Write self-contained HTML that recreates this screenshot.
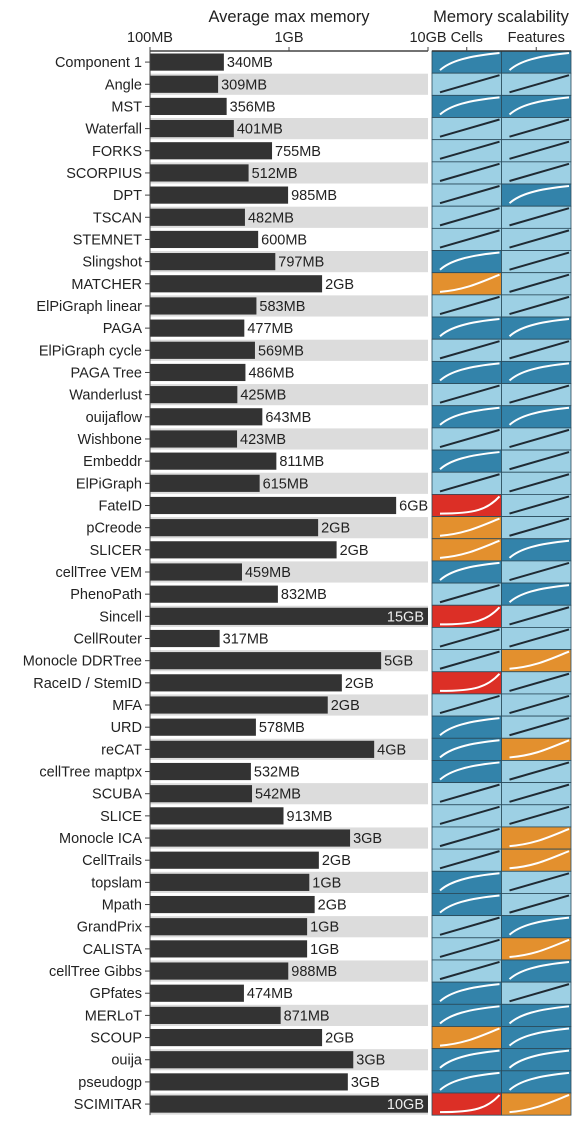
<!DOCTYPE html>
<html><head><meta charset="utf-8">
<style>
html,body{margin:0;padding:0;background:#fff;}
svg{display:block;font-family:"Liberation Sans",Arial,sans-serif;}
</style></head>
<body>
<svg id="chart" width="585" height="1125" viewBox="0 0 585 1125" xmlns="http://www.w3.org/2000/svg">
<text x="289" y="22" font-size="16.5" text-anchor="middle" fill="#222">Average max memory</text>
<text x="501" y="22" font-size="16.5" text-anchor="middle" fill="#222">Memory scalability</text>
<g id="g"></g>
</svg>
<script>
const methods=["Component 1","Angle","MST","Waterfall","FORKS","SCORPIUS","DPT","TSCAN","STEMNET","Slingshot","MATCHER","ElPiGraph linear","PAGA","ElPiGraph cycle","PAGA Tree","Wanderlust","ouijaflow","Wishbone","Embeddr","ElPiGraph","FateID","pCreode","SLICER","cellTree VEM","PhenoPath","Sincell","CellRouter","Monocle DDRTree","RaceID / StemID","MFA","URD","reCAT","cellTree maptpx","SCUBA","SLICE","Monocle ICA","CellTrails","topslam","Mpath","GrandPrix","CALISTA","cellTree Gibbs","GPfates","MERLoT","SCOUP","ouija","pseudogp","SCIMITAR"];
const memoryMB=[340,309,356,401,755,512,985,482,600,797,1730,583,477,569,486,425,643,423,811,615,5900,1620,2200,459,832,15000,317,4600,2400,1900,578,4100,532,542,913,2750,1640,1400,1530,1350,1350,988,474,871,1730,2900,2650,10000];
const cellScal=["D","L","D","L","L","L","L","L","L","D","O","L","D","L","D","L","D","L","D","L","R","O","O","D","L","R","L","L","R","L","D","D","D","L","L","L","L","D","D","L","L","L","D","D","O","D","D","R"];
const featScal=["D","L","D","L","L","L","D","L","L","L","L","L","D","L","D","L","D","L","L","L","L","L","D","L","D","L","L","O","L","L","L","O","L","L","L","O","O","L","L","D","O","D","L","D","D","D","D","O"];
const xTicks=[100,1000,10000];
const xTickLabels=["100MB","1GB","10GB"];
const scalCols=["Cells","Features"];

const NS="http://www.w3.org/2000/svg";
const g=document.getElementById("g");
const X0=150,DEC=139,TOP=51,STEP=22.17;
function x(v){return X0+Math.log10(Math.min(v,10000)/100)*DEC;}
function yRow(i){return TOP+i*STEP;}
function mk(t,a,p){const e=document.createElementNS(NS,t);for(const k in a)e.setAttribute(k,a[k]);(p||g).appendChild(e);return e;}
const colors={D:"#3383aa",L:"#9dd0e4",O:"#e3902e",R:"#dc2f26"};
const curveCol={D:"#fff",L:"#1f2a33",O:"#fff",R:"#fff"};

methods.forEach((m,i)=>{
  const y=yRow(i);
  if(i%2===1){
    const s=mk("rect",{x:X0,y:y+0.5,width:x(10000)-X0,height:STEP-1,fill:"#dcdcdc"});
    
    
  }
  const v=memoryMB[i];
  const b=mk("rect",{x:X0,y:y+2.5,width:x(v)-X0,height:STEP-5,fill:"#333"});
  
  
  const lab=v<1000?Math.round(v)+"MB":Math.round(v/1000)+"GB";
  const inside=v>=8000;
  const t=mk("text",{x:inside?x(v)-4:x(v)+3,y:y+STEP/2+5,"font-size":"14.5","text-anchor":inside?"end":"start",fill:inside?"#eee":"#222"});
  t.textContent=lab;
  
  
  const n=mk("text",{x:X0-8,y:y+STEP/2+5,"font-size":"14.5","text-anchor":"end",fill:"#222"});
  n.textContent=m;
  
  
  mk("line",{x1:X0-5,x2:X0,y1:y+STEP/2,y2:y+STEP/2,stroke:"#444","stroke-width":1});
  [cellScal[i],featScal[i]].forEach((c,j)=>{
    const cx=432+j*69.5,w=69.5;
    const r=mk("rect",{x:cx,y:y,width:w,height:STEP,fill:colors[c],stroke:"#2a4a5a","stroke-width":0.8});
    
    
    const x1=cx+8,x2=cx+w-2,y1=y+STEP-3,y2=y+2;
    let d;
    if(c==="D")d=`M${x1},${y1} C${x1+10},${y1-9} ${x1+28},${y2+3} ${x2},${y2}`;
    else if(c==="L")d=`M${x1},${y1} L${x2},${y2}`;
    else if(c==="O")d=`M${x1},${y1} C${x1+25},${y1-2} ${x2-20},${y2+8} ${x2},${y2}`;
    else d=`M${x1},${y1} C${x1+35},${y1} ${x2-12},${y1-4} ${x2},${y2}`;
    const p=mk("path",{d:d,fill:"none",stroke:curveCol[c],"stroke-width":2});
    
    
  });
});
mk("line",{x1:X0,x2:x(10000),y1:TOP,y2:TOP,stroke:"#444","stroke-width":1.5});
mk("line",{x1:X0,x2:X0,y1:TOP,y2:yRow(methods.length),stroke:"#444","stroke-width":1});
xTicks.forEach((v,i)=>{
  mk("line",{x1:x(v),x2:x(v),y1:TOP-4,y2:TOP,stroke:"#444","stroke-width":1});
  const t=mk("text",{x:x(v),y:TOP-9,"font-size":"14.5","text-anchor":"middle",fill:"#222"});
  t.textContent=xTickLabels[i];
  
  
});
mk("line",{x1:432,x2:571,y1:TOP,y2:TOP,stroke:"#333","stroke-width":1.5});
scalCols.forEach((c,j)=>{
  const cx=432+j*69.5+34.75;
  mk("line",{x1:cx,x2:cx,y1:TOP-4,y2:TOP,stroke:"#444","stroke-width":1});
  const t=mk("text",{x:cx,y:TOP-9,"font-size":"14.5","text-anchor":"middle",fill:"#222"});
  t.textContent=c;
  
  
});
</script>
</body></html>
